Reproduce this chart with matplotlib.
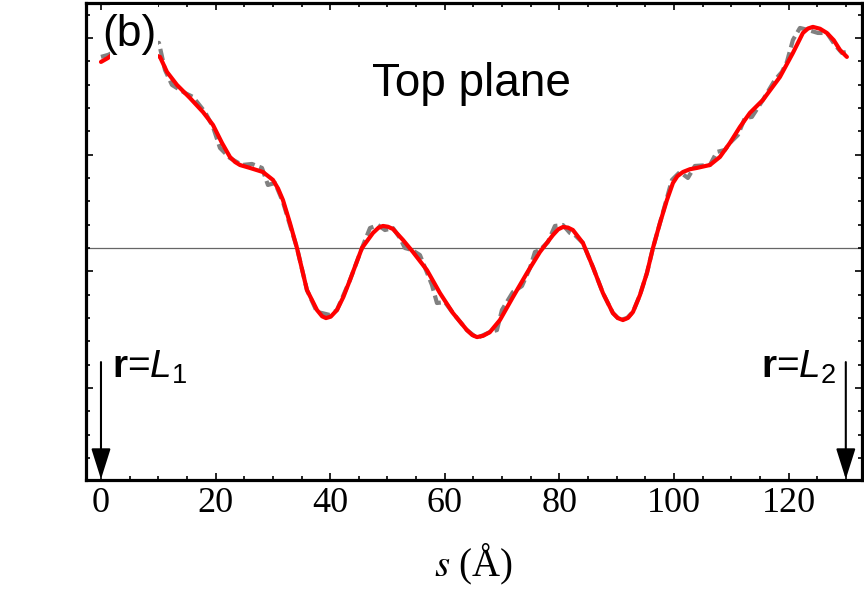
import numpy as np
import matplotlib
matplotlib.use('Agg')
import matplotlib.pyplot as plt
from matplotlib.patches import Rectangle
from matplotlib.ticker import MultipleLocator, FixedLocator

plt.rcParams['mathtext.fontset'] = 'custom'
plt.rcParams['mathtext.rm'] = 'Liberation Sans'
plt.rcParams['mathtext.it'] = 'Liberation Sans:italic'
plt.rcParams['mathtext.bf'] = 'Liberation Sans:bold'

# red: smooth fit
s_fit = [0.00, 1.22, 2.97, 5.06, 7.68, 10.30, 11.52, 13.26, 15.53, 17.80,
         19.55, 21.12, 22.51, 23.40, 24.26, 26.00, 28.27, 30.02, 30.90, 31.76,
         32.98, 34.21, 35.95, 37.70, 38.60, 39.27, 40.10, 41.19, 42.30, 43.46,
         45.55, 47.47, 48.40, 49.21, 50.10, 50.96, 52.71, 54.45, 56.89, 59.16,
         61.43, 63.87, 64.80, 65.62, 66.70, 67.89, 69.63, 71.90, 74.35, 76.61,
         78.88, 79.80, 80.63, 81.50, 82.37, 84.12, 85.86, 87.61, 89.35, 90.20,
         91.10, 92.00, 92.85, 94.07, 95.29, 96.34, 97.56, 98.78, 99.83, 100.60,
         101.57, 102.80, 104.01, 106.28, 108.03, 109.77, 111.52, 113.26, 115.53, 118.50,
         120.77, 122.51, 123.40, 124.26, 125.50, 126.70, 127.90, 128.97, 130.19]
u_fit = [1.594, 1.628, 1.697, 1.722, 1.680, 1.637, 1.508, 1.397, 1.285, 1.165,
         1.054, 0.900, 0.780, 0.737, 0.711, 0.686, 0.651, 0.583, 0.510, 0.411,
         0.214, 0.000, -0.360, -0.531, -0.585, -0.600, -0.588, -0.531, -0.420, -0.274,
         0.000, 0.129, 0.172, 0.189, 0.182, 0.163, 0.069, -0.034, -0.189, -0.386,
         -0.557, -0.703, -0.745, -0.763, -0.752, -0.720, -0.617, -0.420, -0.214, -0.034,
         0.111, 0.160, 0.180, 0.175, 0.154, 0.043, -0.163, -0.386, -0.557, -0.600,
         -0.617, -0.598, -0.548, -0.403, -0.214, 0.000, 0.214, 0.411, 0.557, 0.615,
         0.651, 0.675, 0.686, 0.711, 0.780, 0.900, 1.037, 1.157, 1.268, 1.465,
         1.671, 1.842, 1.880, 1.894, 1.878, 1.842, 1.780, 1.697, 1.637]

# gray dashed: raw profile
s_raw = [0.00, 1.22, 5.06, 10.12, 11.17, 12.39, 14.66, 16.06, 18.15, 19.55,
         20.77, 22.51, 24.61, 26.35, 28.10, 29.14, 30.37, 31.76, 32.98, 34.21,
         35.95, 37.70, 38.57, 39.97, 41.19, 43.46, 45.55, 46.95, 48.34, 49.56,
         50.96, 52.18, 53.05, 54.28, 55.67, 57.77, 58.64, 60.03, 61.43, 63.87,
         65.62, 67.89, 69.11, 69.98, 71.90, 73.47, 74.87, 75.74, 76.61, 78.01,
         79.23, 80.63, 81.85, 82.72, 84.12, 85.86, 87.61, 89.35, 90.58, 91.80,
         92.85, 94.07, 95.29, 96.34, 97.56, 98.78, 99.65, 101.05, 102.44, 103.66,
         106.28, 107.50, 108.90, 109.77, 111.17, 112.39, 113.61, 115.53, 117.63, 118.85,
         119.72, 120.77, 121.99, 123.39, 125.13, 126.70, 128.10, 129.32, 130.19]
u_raw = [1.637, 1.654, 1.740, 1.757, 1.525, 1.397, 1.328, 1.294, 1.165, 1.037,
         0.857, 0.771, 0.711, 0.720, 0.686, 0.540, 0.557, 0.394, 0.197, 0.000,
         -0.360, -0.548, -0.557, -0.574, -0.531, -0.274, 0.000, 0.171, 0.197, 0.154,
         0.171, 0.086, 0.000, -0.017, -0.060, -0.317, -0.471, -0.463, -0.557, -0.703,
         -0.771, -0.720, -0.703, -0.531, -0.377, -0.326, -0.171, -0.034, -0.017, 0.051,
         0.189, 0.197, 0.129, 0.111, 0.043, -0.163, -0.386, -0.557, -0.617, -0.600,
         -0.548, -0.403, -0.214, 0.000, 0.214, 0.428, 0.583, 0.651, 0.600, 0.703,
         0.711, 0.823, 0.840, 0.900, 0.968, 1.114, 1.123, 1.268, 1.440, 1.508,
         1.594, 1.782, 1.885, 1.868, 1.842, 1.842, 1.740, 1.671, 1.680]

L1, L2 = 0.0, 130.0
xticks = [0, 20, 40, 60, 80, 100, 120]

fig = plt.figure(figsize=(8.64, 5.92), dpi=100)
ax = fig.add_axes([0.0995, 0.189, 0.898, 0.806])

ax.axhline(0, color='#666666', lw=0.9, zorder=1)
ax.plot(s_raw, u_raw, color='#808080', lw=3.0, dashes=(2.8, 1.2), zorder=2)
ax.plot(s_fit, u_fit, color='red', lw=3.0, zorder=3,
        solid_joinstyle='round', solid_capstyle='round')

ax.set_xlim(-2.62, 132.8)
ax.set_ylim(-1.988, 2.099)

ax.xaxis.set_major_locator(FixedLocator(xticks))
ax.xaxis.set_minor_locator(MultipleLocator(5))
ax.yaxis.set_major_locator(FixedLocator([-1.2, -0.2, 0.8, 1.8]))
ax.yaxis.set_minor_locator(MultipleLocator(0.2))
ax.tick_params(which='both', direction='in', top=True, right=True, width=1.2)
ax.tick_params(which='major', length=5)
ax.tick_params(which='minor', length=3)
ax.set_yticklabels([])
ax.set_xticklabels([str(t) for t in xticks], fontfamily='Liberation Serif', fontsize=26)
ax.tick_params(axis='x', pad=5)
for sp in ax.spines.values():
    sp.set_linewidth(2.3)

ax.set_xlabel(r'$s$ (Å)', fontfamily='Liberation Serif', fontsize=28,
              math_fontfamily='stix', labelpad=16)

# white patch behind the panel label
ax.add_patch(Rectangle((0.031, 0.868), 0.062, 0.128, transform=ax.transAxes,
                       facecolor='white', edgecolor='none', zorder=4))
ax.text(0.021, 0.977, '(b)', transform=ax.transAxes, fontfamily='Liberation Sans',
        fontsize=32, ha='left', va='top', zorder=5)
ax.text(0.497, 0.83, 'Top plane', transform=ax.transAxes, fontfamily='Liberation Sans',
        fontsize=33, ha='center', va='center')

arrow = dict(arrowstyle='-|>,head_length=1.9,head_width=0.6',
             color='black', lw=1.5, shrinkA=0, shrinkB=0)
ax.annotate('', xy=(L1, -1.98), xytext=(L1, -0.977), arrowprops=arrow)
ax.annotate('', xy=(L2, -1.98), xytext=(L2, -0.977), arrowprops=arrow)
ax.text(1.9, -1.114, r'$\mathbf{r}$=$L_1$', fontfamily='Liberation Sans',
        math_fontfamily='custom', fontsize=28, ha='left', va='baseline')
ax.text(128.4, -1.114, r'$\mathbf{r}$=$L_2$', fontfamily='Liberation Sans',
        math_fontfamily='custom', fontsize=28, ha='right', va='baseline')

fig.savefig('out.png', dpi=100)
